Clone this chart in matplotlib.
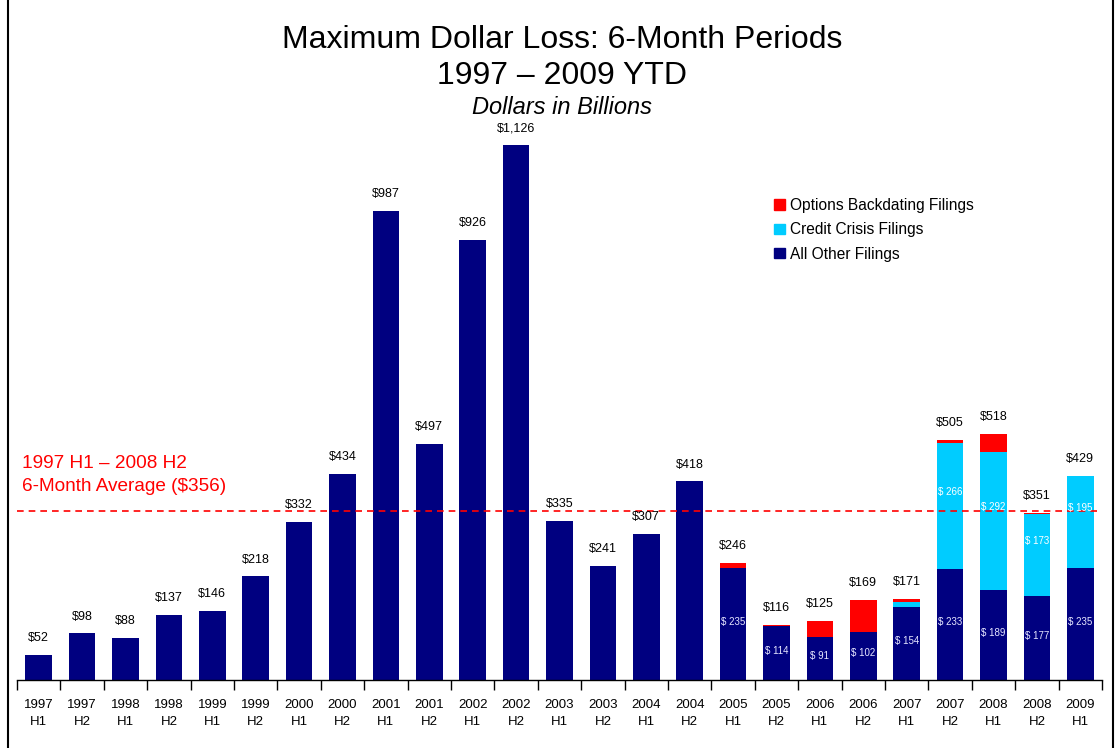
import matplotlib.pyplot as plt
import matplotlib.patches as mpatches
import numpy as np

plt.rcParams['font.family'] = ['Liberation Sans', 'DejaVu Sans']

periods = ["1997\nH1", "1997\nH2", "1998\nH1", "1998\nH2", "1999\nH1", "1999\nH2",
           "2000\nH1", "2000\nH2", "2001\nH1", "2001\nH2", "2002\nH1", "2002\nH2",
           "2003\nH1", "2003\nH2", "2004\nH1", "2004\nH2", "2005\nH1", "2005\nH2",
           "2006\nH1", "2006\nH2", "2007\nH1", "2007\nH2", "2008\nH1", "2008\nH2",
           "2009\nH1"]
totals = [52, 98, 88, 137, 146, 218, 332, 434, 987, 497, 926, 1126, 335, 241,
          307, 418, 246, 116, 125, 169, 171, 505, 518, 351, 429]
other = [52, 98, 88, 137, 146, 218, 332, 434, 987, 497, 926, 1126, 335, 241,
         307, 418, 235, 114, 91, 102, 154, 233, 189, 177, 235]
credit = [0] * 20 + [11, 266, 292, 173, 195]
options = [0] * 16 + [11, 2, 34, 67, 6, 6, 37, 1, 0]
# which segments get an inner label
other_lbl_from = 16
credit_lbl_from = 21
average = 356

NAVY = '#000080'
CYAN = '#00CCFF'
RED = '#FF0000'

fig = plt.figure(figsize=(11.2, 7.48), dpi=100)
ax = fig.add_axes([17 / 1120, 1 - 680 / 748, (1102 - 17) / 1120, (680 - 110) / 748])

x = np.arange(len(periods))
w = 0.61
other_a = np.array(other)
credit_a = np.array(credit)
options_a = np.array(options)

ax.bar(x, other_a, w, color=NAVY)
ax.bar(x, credit_a, w, bottom=other_a, color=CYAN)
ax.bar(x, options_a, w, bottom=other_a + credit_a, color=RED)

for i, t in enumerate(totals):
    ax.text(x[i], t + 23, f"${t:,}", ha='center', va='bottom', fontsize=9)
    if i >= other_lbl_from:
        ax.text(x[i], other[i] / 2 + 5, f"$ {other[i]}", ha='center', va='center',
                fontsize=7, color='#E6E6FF')
    if i >= credit_lbl_from:
        ax.text(x[i], other[i] + credit[i] / 2 + 30, f"$ {credit[i]}", ha='center',
                va='center', fontsize=7, color='white')

ax.axhline(average, color=RED, linestyle=(0, (4, 3)), linewidth=1.2)
ax.text(22 / 1120, 0.338, "1997 H1 \u2013 2008 H2\n6-Month Average ($356)",
        transform=fig.transFigure, color=RED, fontsize=13.7, ha='left', va='bottom',
        linespacing=1.45)

ax.set_xlim(-0.5, len(periods) - 0.5)
ax.set_ylim(0, 1200)
for s in ['top', 'right', 'left']:
    ax.spines[s].set_visible(False)
ax.spines['bottom'].set_linewidth(1)
ax.set_yticks([])
ax.set_xticks(x)
ax.set_xticklabels(periods, fontsize=9.5, linespacing=1.55)
ax.tick_params(axis='x', which='major', length=0, pad=14)
ax.set_xticks(np.arange(-0.5, len(periods), 1), minor=True)
ax.tick_params(axis='x', which='minor', length=7, direction='out', width=1)

fig.text(0.502, 0.946, "Maximum Dollar Loss: 6-Month Periods", ha='center',
         va='center', fontsize=23)
fig.text(0.502, 0.899, "1997 \u2013 2009 YTD", ha='center', va='center', fontsize=23)
fig.text(0.502, 0.856, "Dollars in Billions", ha='center', va='center',
         fontsize=17, style='italic')

handles = [mpatches.Patch(color=RED, label='Options Backdating Filings'),
           mpatches.Patch(color=CYAN, label='Credit Crisis Filings'),
           mpatches.Patch(color=NAVY, label='All Other Filings')]
fig.legend(handles=handles, loc='upper left', bbox_to_anchor=(0.679, 0.754),
           frameon=False, fontsize=11.2, handlelength=0.65, handleheight=0.65,
           handletextpad=0.35, labelspacing=0.6)

fig.add_artist(mpatches.Rectangle((8 / 1120, -0.01), (1113 - 8) / 1120, 1.02,
                                  transform=fig.transFigure, fill=False,
                                  edgecolor='black', linewidth=1.5))

fig.savefig('out.png', dpi=100)
